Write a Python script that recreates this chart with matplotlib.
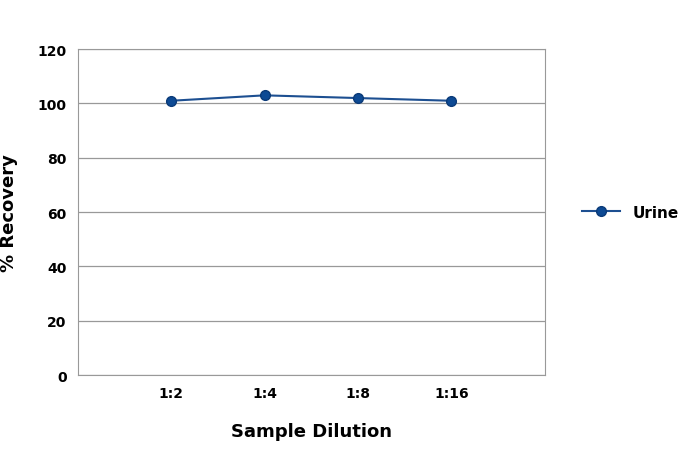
import matplotlib.pyplot as plt
from matplotlib import font_manager

dilutions = ['1:2', '1:4', '1:8', '1:16']
urine = [101, 103, 102, 101]
y_ticks = [0, 20, 40, 60, 80, 100, 120]

names = {f.name for f in font_manager.fontManager.ttflist}
fam = 'Liberation Sans Narrow' if 'Liberation Sans Narrow' in names else 'DejaVu Sans'
plt.rcParams['font.family'] = fam
plt.rcParams['font.weight'] = 'bold'

fig = plt.figure(figsize=(6.94, 4.52), dpi=100)
ax = fig.add_axes([0.112, 0.168, 0.673, 0.721])

x = list(range(1, len(dilutions) + 1))
ax.plot(x, urine, color='#1d4f91', lw=1.5, marker='o', ms=7,
        markerfacecolor='#0d4a94', markeredgecolor='#0a3a78', label='Urine')

ax.set_xlim(0, 5)
ax.set_ylim(0, 120)
ax.set_xticks(x)
ax.set_xticklabels(dilutions)
ax.set_yticks(y_ticks)
ax.grid(axis='y', color='#999999', lw=0.9)
ax.set_axisbelow(True)
for s in ax.spines.values():
    s.set_color('#999999')
ax.tick_params(length=0, labelsize=10, pad=8)
ax.set_xlabel('Sample Dilution', fontsize=13, fontweight='bold', labelpad=16)
ax.set_ylabel('% Recovery', fontsize=13, fontweight='bold', labelpad=14)
ax.legend(loc='center left', bbox_to_anchor=(1.05, 0.5), frameon=False,
          fontsize=11, handlelength=2.5)

fig.savefig('out.png', dpi=100)
